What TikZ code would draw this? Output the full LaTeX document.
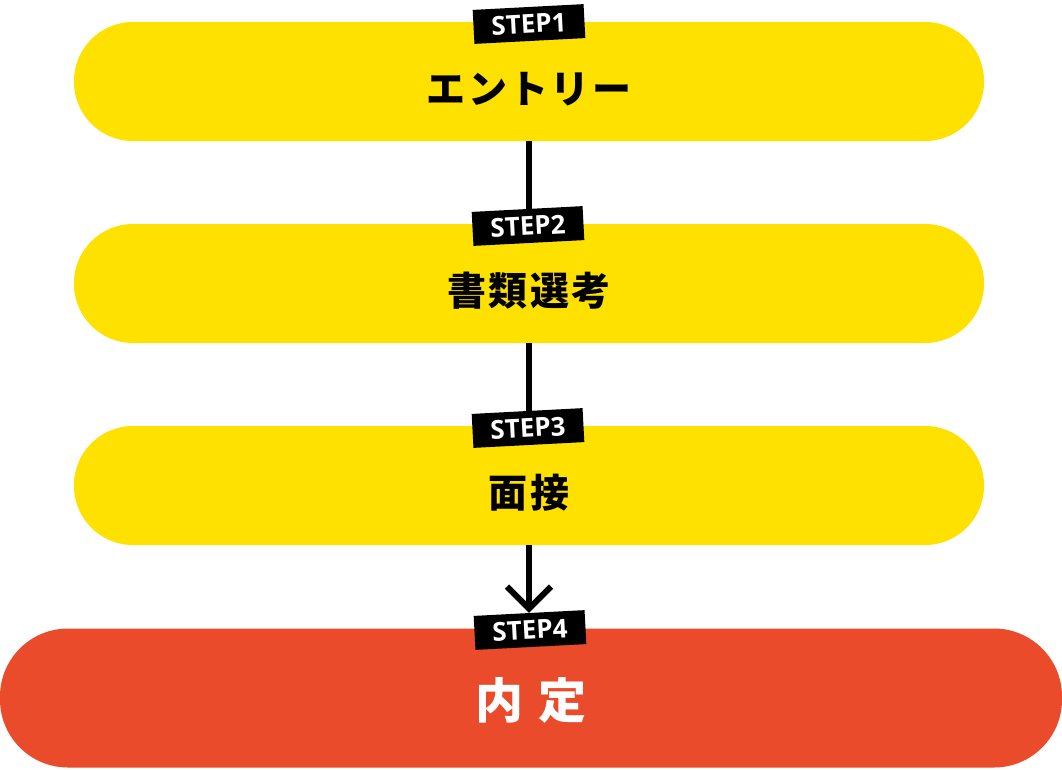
\documentclass[tikz,border=0pt]{standalone}
\usepackage{fontspec}
\newfontfamily\jpfont{Noto Sans CJK JP}
\newfontfamily\stepfont{Open Sans}
\usetikzlibrary{arrows.meta}
\definecolor{gelb}{HTML}{FFE100}
\definecolor{rot}{HTML}{E94B2B}
\begin{document}
\begin{tikzpicture}
                        [x=1pt,y=-1pt,
                        pill/.style={fill=gelb,rounded corners=59pt,minimum width=910pt,minimum height=119pt,inner sep=0pt,text height=43pt,text depth=0pt,font=\jpfont\bfseries\fontsize{39}{42}\selectfont},
                        last/.style={fill=rot,rounded corners=68pt,minimum width=1062pt,minimum height=139pt,inner sep=0pt,text height=41pt,text depth=0pt,text=white,font=\jpfont\bfseries\fontsize{48}{52}\selectfont},
                        tag/.style={fill=black,text=white,rotate=3,minimum width=111pt,minimum height=34pt,inner sep=0pt,font=\stepfont\bfseries\fontsize{26}{28}\selectfont},
                        link/.style={line width=6pt}]
                        \useasboundingbox (0,0) rectangle (1062,769);
                        %Schritte
                        \node [pill] (entry) at (529,81.5) {\addfontfeatures{LetterSpace=6}エントリー};
                        \node [pill] (papers) at (529,283.5) {\addfontfeatures{LetterSpace=6}書類選考};
                        \node [pill] (talk) at (529,485.5) {\addfontfeatures{LetterSpace=6}面接};
                        \node [last] (offer) at (531,698) {\addfontfeatures{LetterSpace=8}内 定};
                        %Verbindungen
                        \coordinate (t2) at (528,226);
                        \coordinate (t3) at (528,428);
                        \coordinate (t4) at (530,630);
                        \draw [link] (entry.south) -- (entry.south |- t2);
                        \draw [link] (papers.south) -- (papers.south |- t3);
                        %Etiketten
                        \node [tag] (step1) at (529,24) {STEP1};
                        \node [tag] (step2) at (t2) {STEP2};
                        \node [tag] (step3) at (t3) {STEP3};
                        \node [tag] (step4) at (t4) {STEP4};
                        \draw [link,-{Straight Barb[length=22pt,width=44pt,line width=6pt]}] (talk.south) -- (talk.south |- step4.north);
                \end{tikzpicture}
\end{document}
